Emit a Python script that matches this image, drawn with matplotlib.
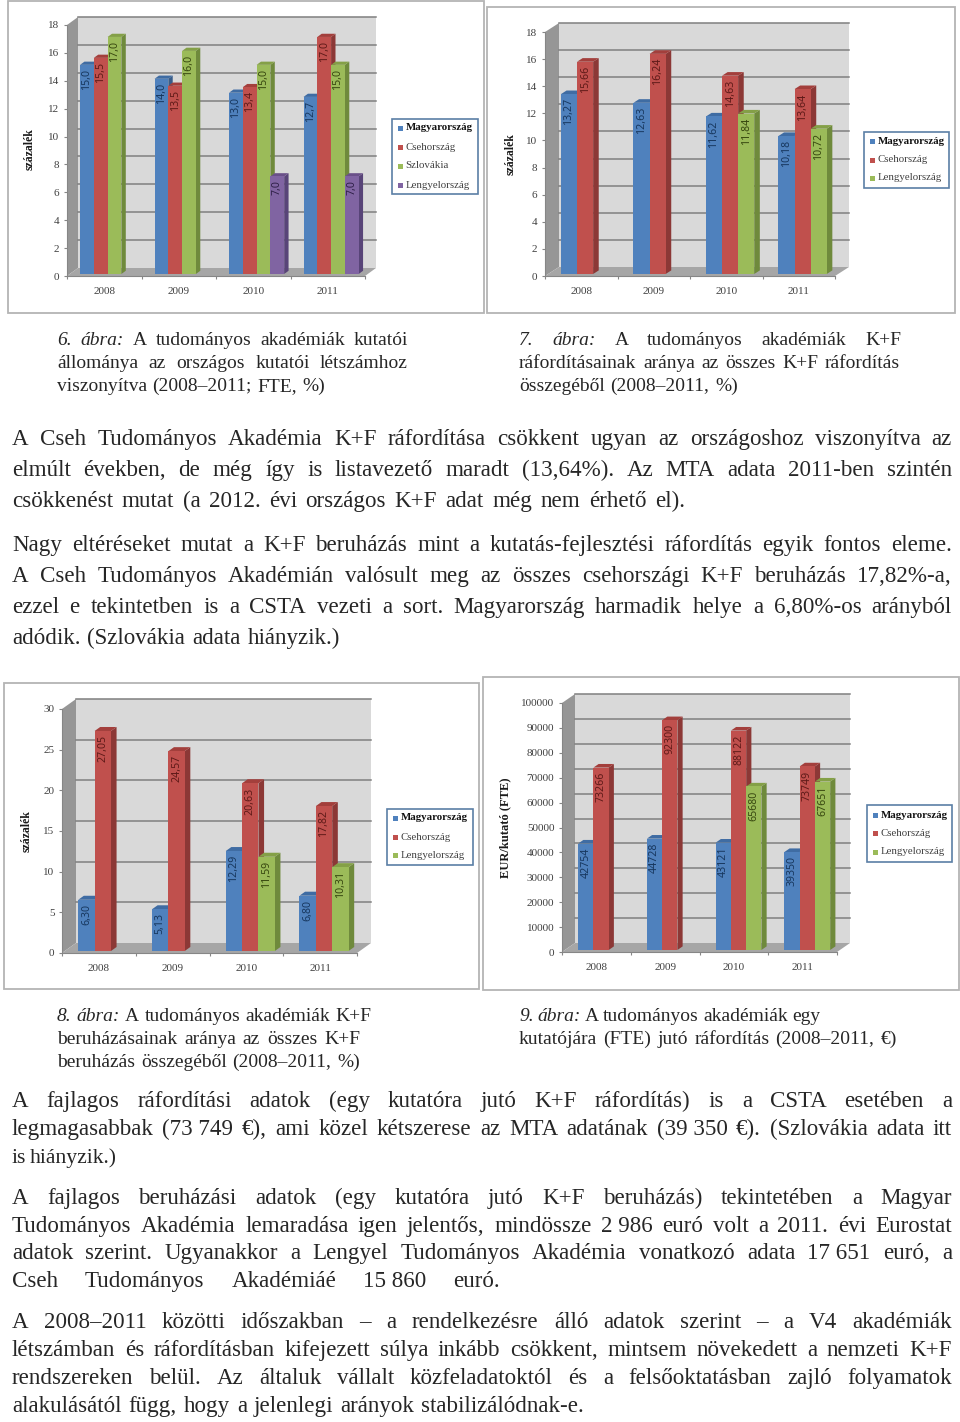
"""Page with four pseudo-3D bar charts, captions and body text."""

import matplotlib
matplotlib.use("Agg")
import matplotlib.pyplot as plt
from matplotlib.patches import Rectangle

W, H = 960, 1422
SERIF = "Liberation Serif"
INK = "#262626"
NB = "\u00a0"

YEARS = ["2008", "2009", "2010", "2011"]
COUNTRIES_4 = ["Magyarország", "Csehország", "Szlovákia", "Lengyelország"]
COUNTRIES_3 = ["Magyarország", "Csehország", "Lengyelország"]

# Figure 6
STAFF_HU = [15.0, 14.0, 13.0, 12.7]
STAFF_CZ = [15.5, 13.5, 13.4, 17.0]
STAFF_SK = [17.0, 16.0, 15.0, 15.0]
STAFF_PL = [None, None, 7.0, 7.0]
# Figure 7
SPEND_HU = [13.27, 12.63, 11.62, 10.18]
SPEND_CZ = [15.66, 16.24, 14.63, 13.64]
SPEND_PL = [None, None, 11.84, 10.72]
# Figure 8
INVEST_HU = [6.30, 5.13, 12.29, 6.80]
INVEST_CZ = [27.05, 24.57, 20.63, 17.82]
INVEST_PL = [None, None, 11.59, 10.31]
# Figure 9
PER_HEAD_HU = [42754, 44728, 43121, 39350]
PER_HEAD_CZ = [73266, 92300, 88122, 73749]
PER_HEAD_PL = [None, None, 65680, 67651]

# (front, side, top, label)
BLUE = ("#4F81BD", "#385D8A", "#3F6CA3", "#17375E")
RED = ("#C0504D", "#8C3836", "#A33F3C", "#5E1A18")
GREEN = ("#9BBB59", "#6F8A3C", "#84A047", "#37470F")
PURPLE = ("#8064A2", "#584478", "#6A5089", "#2E1F47")

# (x0, x1, centre y, text, number of italic words)
CAPTION_LINES = [
    (57, 408, 339, "6. ábra: A tudományos akadémiák kutatói", 2),
    (57, 408, 362, "állománya az országos kutatói létszámhoz", 0),
    (57, 325, 385, "viszonyítva (2008–2011; FTE, %)", 0),
    (519, 901, 339, "7. ábra: A tudományos akadémiák K+F", 2),
    (519, 900, 362, "ráfordításainak aránya az összes K+F ráfordítás", 0),
    (519, 738, 385, "összegéből (2008–2011, %)", 0),
    (57, 371, 1015, "8. ábra: A tudományos akadémiák K+F", 2),
    (57, 360, 1038, "beruházásainak aránya az összes K+F", 0),
    (57, 360, 1061, "beruházás összegéből (2008–2011, %)", 0),
    (519, 820, 1015, "9. ábra: A tudományos akadémiák egy", 2),
    (519, 897, 1038, "kutatójára (FTE) jutó ráfordítás (2008–2011, €)", 0),
]
BODY_LINES = [
    (12, 952, 439, "A Cseh Tudományos Akadémia K+F ráfordítása csökkent ugyan az országoshoz viszonyítva az"),
    (12, 952, 470, "elmúlt években, de még így is listavezető maradt (13,64%). Az MTA adata 2011-ben szintén"),
    (12, 685, 501, "csökkenést mutat (a 2012. évi országos K+F adat még nem érhető el)."),
    (12, 952, 545, "Nagy eltéréseket mutat a K+F beruházás mint a kutatás-fejlesztési ráfordítás egyik fontos eleme."),
    (12, 952, 576, "A Cseh Tudományos Akadémián valósult meg az összes csehországi K+F beruházás 17,82%-a,"),
    (12, 952, 607, "ezzel e tekintetben is a CSTA vezeti a sort. Magyarország harmadik helye a 6,80%-os arányból"),
    (12, 340, 638, "adódik. (Szlovákia adata hiányzik.)"),
    (12, 952, 1101, "A fajlagos ráfordítási adatok (egy kutatóra jutó K+F ráfordítás) is a CSTA esetében a"),
    (12, 952, 1129, f"legmagasabbak (73{NB}749 €), ami közel kétszerese az MTA adatának (39{NB}350 €). (Szlovákia adata itt"),
    (12, 117, 1157, "is hiányzik.)"),
    (12, 952, 1198, "A fajlagos beruházási adatok (egy kutatóra jutó K+F beruházás) tekintetében a Magyar"),
    (12, 952, 1226, f"Tudományos Akadémia lemaradása igen jelentős, mindössze 2{NB}986 euró volt a 2011. évi Eurostat"),
    (12, 952, 1253, f"adatok szerint. Ugyanakkor a Lengyel Tudományos Akadémia vonatkozó adata 17{NB}651 euró, a"),
    (12, 500, 1281, f"Cseh Tudományos Akadémiáé 15{NB}860 euró."),
    (12, 952, 1322, "A 2008–2011 közötti időszakban – a rendelkezésre álló adatok szerint – a V4 akadémiák"),
    (12, 952, 1350, "létszámban és ráfordításban kifejezett súlya inkább csökkent, mintsem növekedett a nemzeti K+F"),
    (12, 952, 1378, "rendszereken belül. Az általuk vállalt közfeladatoktól és a felsőoktatásban zajló folyamatok"),
    (12, 584, 1406, "alakulásától függ, hogy a jelenlegi arányok stabilizálódnak-e."),
]

fig = plt.figure(figsize=(W / 100, H / 100), dpi=100, facecolor="white")
page = fig.add_axes([0, 0, 1, 1])
page.set_xlim(0, W)
page.set_ylim(H, 0)
page.axis("off")


def justified_line(x0, x1, cy, text, n_italic, size, min_gap=3.6):
    """Set one line word by word so it spans x0..x1 like the justified original."""
    renderer = fig.canvas.get_renderer()
    words = text.split(" ")
    items = []
    for i, word in enumerate(words):
        style = "italic" if i < n_italic else "normal"
        items.append(page.text(x0, cy + 6, word, family=SERIF, style=style,
                               fontsize=size, color=INK, va="baseline"))
    widths = [t.get_window_extent(renderer).width for t in items]
    n_gaps = max(len(words) - 1, 1)
    room = x1 - x0 - min_gap * n_gaps
    if sum(widths) > room:
        # line too long for the substitute font, shrink it a little
        scale = room / sum(widths)
        widths = [w * scale for w in widths]
        for t in items:
            t.set_fontsize(size * scale)
    gap = (x1 - x0 - sum(widths)) / n_gaps
    x = x0
    for t, w in zip(items, widths):
        t.set_x(x)
        x += w + gap


def draw_chart(frame, plot, depth, ymax, ystep, series, colors, names, legend,
               ylabel, ylabel_xy, start, bar_w, fmt, ylabel_size=8.5):
    fx0, fy0, fx1, fy1 = frame
    x0, x1, ytop, ybot = plot
    dx_px, dy_px = depth

    page.add_patch(Rectangle((fx0, fy0), fx1 - fx0, fy1 - fy0, fc="white",
                             ec="#B4B4B4", lw=1.3))

    ax = fig.add_axes([x0 / W, 1 - ybot / H, (x1 - x0) / W, (ybot - ytop) / H])
    ax.set_xlim(0, 4)
    ax.set_ylim(0, ymax)
    ax.patch.set_visible(False)
    for side in ("top", "right"):
        ax.spines[side].set_visible(False)
    for side in ("left", "bottom"):
        ax.spines[side].set_color("#868686")

    ux = 4 / (x1 - x0)
    uy = ymax / (ybot - ytop)
    dx, dy = dx_px * ux, dy_px * uy

    # walls and floor
    ax.fill([dx, 4 + dx, 4 + dx, dx], [dy, dy, ymax + dy, ymax + dy],
            color="#D9D9D9", lw=0, zorder=1, clip_on=False)
    ax.fill([0, dx, dx, 0], [0, dy, ymax + dy, ymax], color="#969696", lw=0,
            zorder=1, clip_on=False)
    ax.fill([0, 4, 4 + dx, dx], [0, 0, dy, dy], color="#A6A6A6", lw=0,
            zorder=1.2, clip_on=False)

    ticks = [ystep * i for i in range(int(round(ymax / ystep)) + 1)]
    for t in ticks[1:]:
        ax.plot([dx, 4 + dx], [t + dy, t + dy], color="#7F7F7F", lw=1.1,
                zorder=1.5, clip_on=False)

    # bars: front from ax.bar, side and top faces offset by the bar depth
    bd_x, bd_y = 0.4 * dx, 0.4 * dy
    lift = 2 * uy
    for k, (values, col) in enumerate(zip(series, colors)):
        front, side, top, ink = col
        for i, v in enumerate(values):
            if v is None:
                continue
            left = i + start + k * bar_w
            z = 3 + i + k * 0.1
            ax.bar(left, v, bar_w, bottom=lift, align="edge", color=front,
                   lw=0, zorder=z + 0.02, clip_on=False)
            right = left + bar_w
            ytip = v + lift
            ax.fill([right, right + bd_x, right + bd_x, right],
                    [lift, lift + bd_y, ytip + bd_y, ytip], color=side, lw=0,
                    zorder=z, clip_on=False)
            ax.fill([left, right, right + bd_x, left + bd_x],
                    [ytip, ytip, ytip + bd_y, ytip + bd_y], color=top, lw=0,
                    zorder=z, clip_on=False)
            ax.annotate(fmt(v), (left + bar_w / 2, ytip), xytext=(0, -3),
                        textcoords="offset points", rotation=90, ha="center",
                        va="top", fontsize=7.6, color=ink, family="Noto Sans",
                        zorder=z + 0.05, annotation_clip=False)

    ax.set_yticks(ticks)
    ax.set_yticklabels([str(t) for t in ticks], family=SERIF, fontsize=8,
                       color="#404040")
    ax.tick_params(axis="y", length=2.5, color="#868686", pad=3)
    ax.set_xticks(range(5))
    ax.set_xticklabels([])
    ax.set_xticks([i + 0.5 for i in range(4)], minor=True)
    ax.set_xticklabels(YEARS, minor=True, family=SERIF, fontsize=8,
                       color="#404040")
    ax.tick_params(axis="x", which="major", length=2.5, color="#868686")
    ax.tick_params(axis="x", which="minor", length=0, pad=8)

    page.text(ylabel_xy[0], ylabel_xy[1], ylabel, rotation=90, ha="center",
              va="center", family=SERIF, weight="bold", fontsize=ylabel_size,
              color="#1A1A1A")

    # legend
    lx0, ly0, lx1, ly1, rows = legend
    page.add_patch(Rectangle((lx0, ly0), lx1 - lx0, ly1 - ly0, fc="white",
                             ec="#5B7FA6", lw=1.2))
    for i, (name, col, y) in enumerate(zip(names, colors, rows)):
        page.add_patch(Rectangle((lx0 + 6, y - 2.5), 5, 5, fc=col[0], ec="none"))
        page.text(lx0 + 13.5, y, name, family=SERIF, fontsize=7.8, va="center",
                  weight="bold" if i == 0 else "normal",
                  color="#111111" if i == 0 else "#404040")


def comma_1(v):
    return f"{v:.1f}".replace(".", ",")


def comma_2(v):
    return f"{v:.2f}".replace(".", ",")


draw_chart((8, 1, 484, 313), (67, 365, 25, 276), (11, 8), 18, 2,
           [STAFF_HU, STAFF_CZ, STAFF_SK, STAFF_PL],
           [BLUE, RED, GREEN, PURPLE], COUNTRIES_4,
           (392, 119, 478, 194, [128, 147, 166, 185]),
           "százalék", (30, 149), 0.175, 0.185, comma_1)
draw_chart((487, 7, 955, 313), (545, 835, 32, 276), (14, 9), 18, 2,
           [SPEND_HU, SPEND_CZ, SPEND_PL],
           [BLUE, RED, GREEN], COUNTRIES_3,
           (864, 132, 949, 188, [141, 160, 178]),
           "százalék", (511, 154), 0.22, 0.222, comma_2)
draw_chart((4, 683, 479, 989), (62, 357, 709, 953), (14, 10), 30, 5,
           [INVEST_HU, INVEST_CZ, INVEST_PL],
           [BLUE, RED, GREEN], COUNTRIES_3,
           (387, 809, 473, 865, [818, 837, 855]),
           "százalék", (27, 831), 0.22, 0.222, comma_2)
draw_chart((483, 677, 959, 990), (562, 837, 703, 952), (13, 9), 100000, 10000,
           [PER_HEAD_HU, PER_HEAD_CZ, PER_HEAD_PL],
           [BLUE, RED, GREEN], COUNTRIES_3,
           (867, 805, 952, 862, [815, 833, 852]),
           "EUR/kutató (FTE)", (505, 828), 0.235, 0.222, lambda v: str(v),
           ylabel_size=9)

for x0, x1, cy, line, n_italic in CAPTION_LINES:
    justified_line(x0, x1, cy, line, n_italic, 14)
for x0, x1, cy, line in BODY_LINES:
    justified_line(x0, x1, cy, line, 0, 16.6)

fig.savefig("out.png", dpi=100)
